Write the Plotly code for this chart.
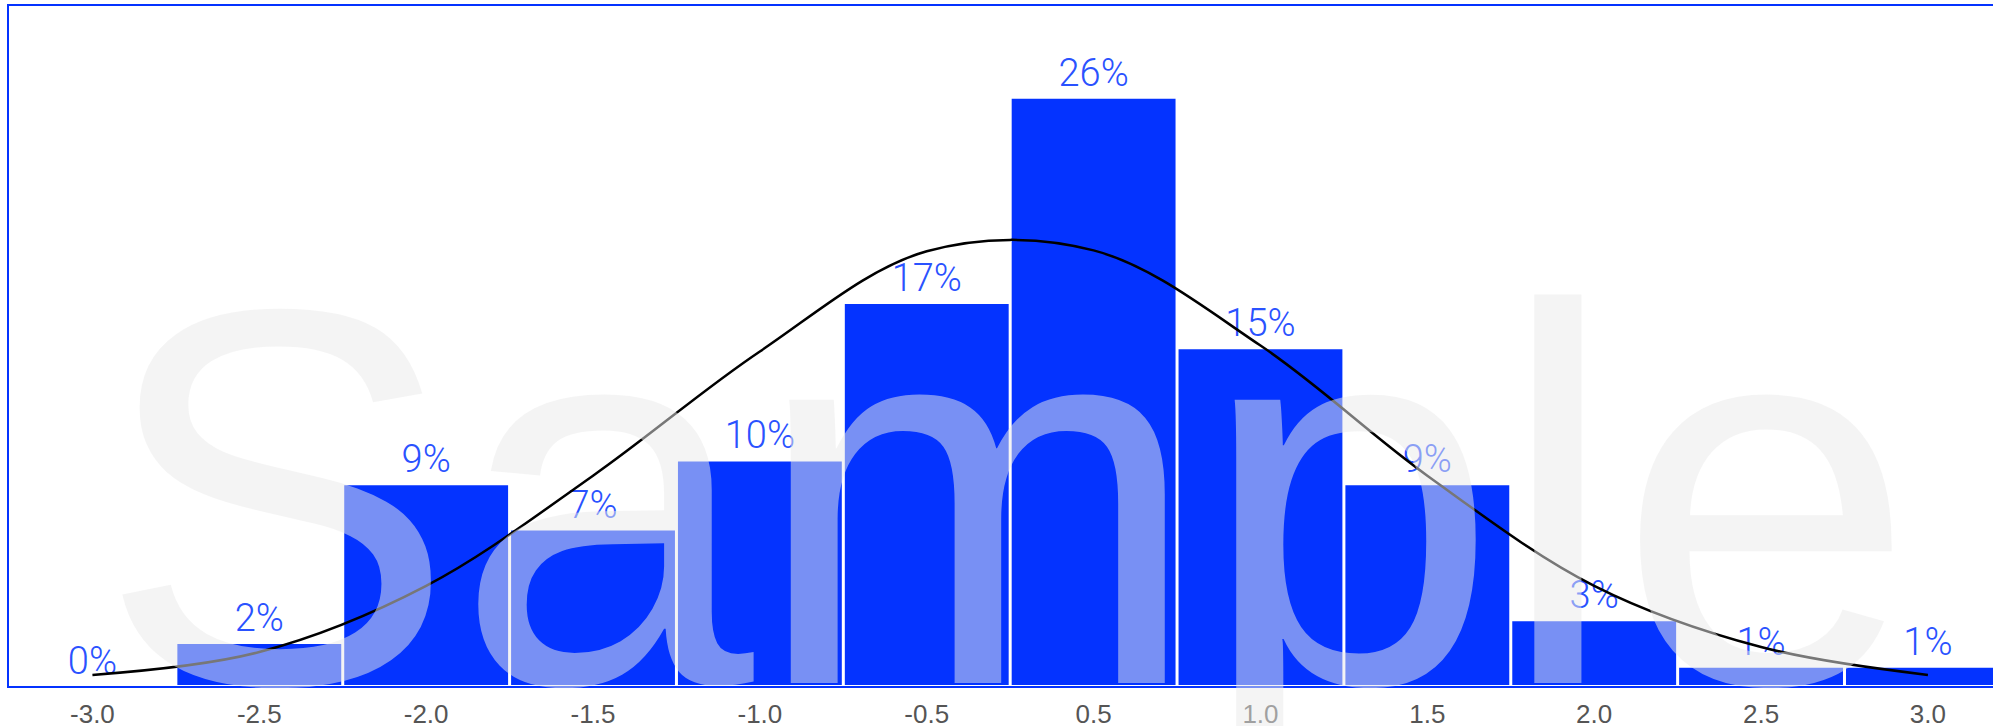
import plotly.graph_objects as go

# ---- data ----
categories = ["-3.0", "-2.5", "-2.0", "-1.5", "-1.0", "-0.5", "0.5", "1.0", "1.5", "2.0", "2.5", "3.0"]
bar_pct = [0, 1.9, 8.9, 6.9, 9.95, 16.9, 25.95, 14.9, 8.9, 2.9, 0.85, 0.85]
curve_pct = [0.49, 1.5, 4.42, 9.28, 14.76, 19.18, 19.22, 15.02, 9.28, 4.42, 1.72, 0.49]
watermark_text = "Sample"

BLUE = "#0433ff"

fig = go.Figure()
fig.add_trace(go.Bar(
    x=categories, y=bar_pct,
    marker=dict(color=BLUE, line=dict(color="white", width=2)),
    texttemplate="%{y:.0f}%", textposition="outside",
    textfont=dict(family="Roboto", size=38, color="#2a52ff", weight=300),
    cliponaxis=False, showlegend=False, hoverinfo="skip",
))
fig.add_trace(go.Scatter(
    x=categories, y=curve_pct, mode="lines",
    line=dict(color="black", width=2.5, shape="spline", smoothing=1),
    showlegend=False, hoverinfo="skip", cliponaxis=False,
))

fig.add_annotation(
    text=watermark_text, xref="paper", yref="paper",
    x=0.503, y=-0.17, xanchor="center", yanchor="bottom",
    showarrow=False,
    font=dict(family="Liberation Sans", size=536, color="rgba(233,233,233,0.51)"),
)

fig.update_layout(
    width=1993, height=726,
    margin=dict(l=9, r=0, t=6, b=40, autoexpand=False),
    paper_bgcolor="white", plot_bgcolor="white",
    bargap=0.006,
    xaxis=dict(
        type="category", range=[-0.5, 11.39], automargin=False,
        showline=True, linecolor=BLUE, linewidth=1.5, mirror=True,
        showgrid=False, zeroline=False,
        ticks="outside", ticklen=4, tickcolor="rgba(0,0,0,0)",
        tickfont=dict(family="Liberation Sans", size=26, color="#555555"),
    ),
    yaxis=dict(
        range=[0, 30], automargin=False,
        showline=True, linecolor=BLUE, linewidth=1.5, mirror=False,
        showgrid=False, zeroline=False, showticklabels=False, ticks="",
    ),
)

fig.write_html(
    "out.html",
    config={"displayModeBar": False},
    post_script="document.body.style.margin='0';document.body.style.overflow='hidden';",
)
